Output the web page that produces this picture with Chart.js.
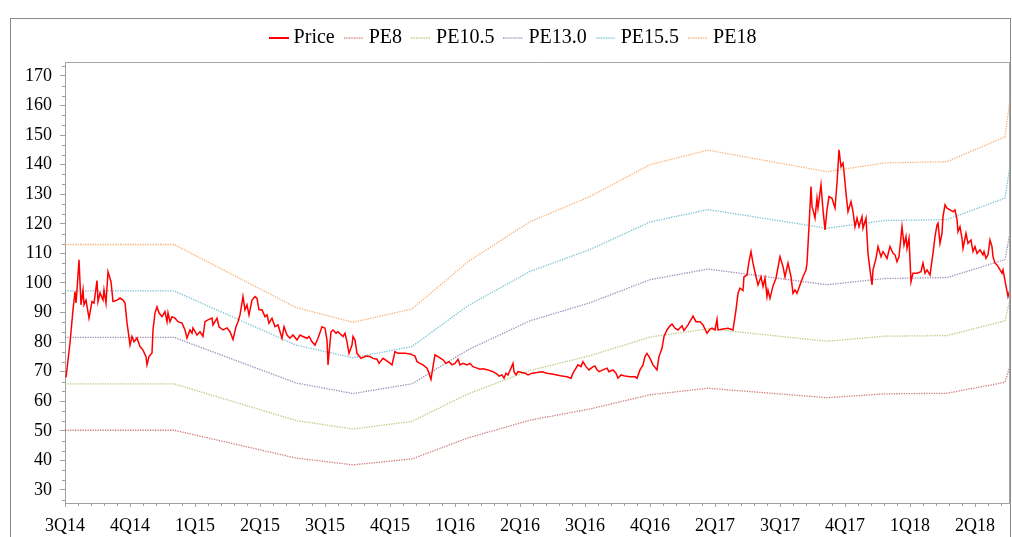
<!DOCTYPE html>
<html>
<head>
<meta charset="utf-8">
<script src="https://cdn.jsdelivr.net/npm/chart.js@4/dist/chart.umd.min.js"></script>
<style>
html,body{margin:0;padding:0;background:#fff;}
canvas{display:block;}
</style>
</head>
<body>
<canvas id="c" width="1012" height="537" style="width:1012px;height:537px"></canvas>
<script>
// ---------- DATA ----------
const xLabels = ['3Q14','4Q14','1Q15','2Q15','3Q15','4Q15','1Q16','2Q16','3Q16','4Q16','2Q17','3Q17','4Q17','1Q18','2Q18'];
const labelStep = 65;     // day units between axis labels
const dayMax = 945;

const priceDays = [1,5,8,10,11,12,14,16,18,19,21,24,27,29,32,33,35,38,39,41,43,46,48,52,55,58,60,62,63,65,67,69,72,75,78,81,82,84,87,88,90,92,94,97,100,102,103,105,107,110,113,117,120,122,125,127,128,132,135,138,140,143,147,148,152,154,158,162,165,168,171,173,175,178,180,182,184,187,190,192,194,197,200,202,204,207,210,213,217,219,222,225,228,232,235,238,242,244,247,250,253,257,260,262,263,266,268,271,273,278,280,282,284,287,288,290,292,296,301,305,308,312,314,318,323,327,330,333,340,345,350,352,355,358,362,364,366,368,370,373,378,381,384,387,390,393,395,398,402,405,408,412,415,418,423,428,432,434,437,439,441,443,446,448,449,451,453,457,460,463,467,472,477,482,487,492,497,502,506,508,511,513,516,518,521,524,528,530,532,534,538,542,544,548,551,553,556,560,565,570,572,575,578,580,582,585,588,592,594,597,599,602,605,607,610,613,617,619,623,628,631,635,638,642,645,647,650,652,653,658,663,668,671,673,675,678,679,682,684,686,688,691,693,696,698,700,702,703,705,708,711,715,718,720,723,726,728,730,732,735,738,741,742,744,746,747,748,750,752,753,756,758,760,762,764,767,770,772,774,776,778,779,781,783,786,788,790,792,794,797,798,801,803,805,807,808,811,813,816,818,820,822,825,828,830,832,834,837,839,841,842,844,846,848,852,856,858,860,862,865,868,870,872,873,875,877,878,880,882,885,888,890,892,893,895,897,898,901,903,906,908,910,912,915,918,919,921,923,925,927,928,930,932,934,937,938,941,943,945];
const priceValues = [68.1,79.7,90.9,97.1,93.2,97.6,107.8,92.6,97.6,92.6,94.2,88.1,93.7,93.2,100.8,93.7,96.6,94.2,97.6,93.2,103.8,100.4,93.7,94.2,94.9,94.2,93.2,86.5,84.1,79.0,81.9,80.1,81.4,78.5,77.3,75.1,72.3,75.1,76.3,84.1,89.9,91.9,89.9,88.6,90.3,86.9,89.9,86.9,88.6,88.1,86.9,86.4,84.1,81.4,84.1,83.0,84.8,82.4,83.5,81.9,86.9,87.5,88.1,85.8,88.1,85.2,84.1,84.8,83.5,80.9,85.2,86.9,89.2,95.4,90.9,92.6,89.2,94.2,95.4,94.8,90.9,90.9,88.6,89.2,86.4,88.1,85.2,85.8,81.3,85.2,82.4,81.3,82.4,80.7,82.4,81.9,81.3,81.9,80.1,79.0,81.3,85.2,84.7,80.7,72.3,83.5,84.1,83.0,83.5,81.9,83.0,80.1,76.2,79.0,81.9,80.7,76.2,74.5,75.3,75.1,74.5,74.2,72.8,74.5,73.4,72.3,76.8,76.2,76.2,76.0,75.3,73.4,72.8,72.3,71.2,69.5,67.4,71.7,75.7,75.1,74.0,72.8,73.4,72.3,72.8,74.2,72.3,72.8,72.3,72.8,71.7,71.2,70.8,71.0,70.6,70.0,69.2,68.5,68.9,67.8,69.5,68.9,71.2,72.8,70.0,68.9,70.0,69.7,69.5,68.9,69.5,69.7,70.0,69.5,69.2,68.9,68.5,68.3,67.8,69.5,71.2,72.3,71.7,73.4,71.7,70.6,71.7,71.9,70.6,70.0,70.6,71.2,70.0,70.6,69.5,67.8,68.9,68.5,68.3,68.3,67.8,70.6,72.3,75.1,76.2,74.5,72.3,70.6,75.1,77.9,81.9,84.1,85.5,86.1,84.7,84.1,85.5,83.9,85.8,88.8,86.9,86.9,85.8,83.0,84.4,84.7,84.1,87.7,84.1,84.4,84.7,84.1,90.9,96.5,98.2,97.4,102.1,102.7,107.2,110.6,106.7,102.1,99.3,102.1,98.8,101.6,95.4,97.6,94.8,99.0,101.6,108.9,105.5,102.1,106.7,102.1,96.5,97.6,96.5,99.3,102.1,104.4,106.7,119.0,132.6,125.8,124.7,121.9,128.6,125.3,133.2,124.7,117.9,124.7,129.2,128.6,125.3,133.7,145.0,139.3,140.5,137.6,130.3,124.1,127.5,124.1,119.0,121.9,119.0,122.4,118.5,121.9,110.0,104.4,99.3,104.4,108.3,112.3,108.9,110.6,109.5,108.3,112.3,110.0,109.5,107.2,108.9,119.0,112.8,115.7,111.7,115.1,100.4,103.3,103.3,103.8,106.7,103.3,104.4,102.7,110.0,115.7,119.6,120.2,113.4,116.8,122.4,126.4,125.3,124.7,124.1,124.7,121.4,117.3,119.0,115.1,111.7,116.8,113.4,114.5,110.6,112.3,110.0,111.2,109.5,110.6,108.3,109.5,114.5,112.3,108.9,106.7,106.1,105.0,103.3,104.4,99.0,95.4,97.8];

const peDays = [0,109,231,288,347,403,465,525,585,643,762,820,882,940,945];
const pe8   = [50.2,50.2,40.8,38.5,40.5,47.6,53.6,57.4,62.2,64.4,61.2,62.5,62.7,66.4,72.0];
const pe105 = [65.9,65.9,53.5,50.6,53.2,62.5,70.4,75.4,81.7,84.5,80.3,82.0,82.2,87.2,94.5];
const pe13  = [81.6,81.6,66.2,62.6,65.9,77.4,87.2,93.3,101.1,104.7,99.4,101.5,101.8,107.9,117.0];
const pe155 = [97.3,97.3,79.0,74.7,78.5,92.3,103.9,111.3,120.6,124.8,118.5,121.1,121.4,128.7,139.5];
const pe18  = [113.0,113.0,91.7,86.7,91.2,107.2,120.7,129.2,140.0,144.9,137.6,140.6,141.0,149.4,162.0];

const yMin = 25.6, yMax = 174.7, yStep = 10;

// ---------- BUILD ----------
const pts = (xs, ys) => xs.map((x, i) => ({x, y: ys[i]}));
const FONT = "'Liberation Serif', 'Times New Roman', serif";

// small legend swatch (line sample) used as the legend point style
function swatch(color, width, dash) {
  const cv = document.createElement('canvas');
  cv.width = 20; cv.height = 4;
  const g = cv.getContext('2d');
  g.strokeStyle = color; g.lineWidth = width;
  if (dash) g.setLineDash(dash);
  g.beginPath(); g.moveTo(0, 2); g.lineTo(20, 2); g.stroke();
  return cv;
}

function peSet(label, data, color) {
  return {
    label, data: pts(peDays, data), borderColor: color, backgroundColor: color,
    borderWidth: 1.3, borderDash: [1.3, 1.2], pointRadius: 0, tension: 0, fill: false,
    pointStyle: swatch(color, 1.5, [1.3, 1.2])
  };
}

const decor = {
  id: 'decor',
  beforeDraw(chart) {
    const c = chart.ctx;
    c.save();
    c.fillStyle = '#fff';
    c.fillRect(0, 0, chart.width, chart.height);
    c.strokeStyle = '#8a8a8a';
    c.lineWidth = 1;
    c.strokeRect(10.5, 18.5, 1000, 700);
    c.restore();
  },
  afterDraw(chart) {
    const c = chart.ctx;
    const a = chart.chartArea;
    const xs = chart.scales.x, ys = chart.scales.y;
    c.save();
    c.strokeStyle = '#a6a6a6';
    c.lineWidth = 1;
    c.beginPath();
    c.moveTo(a.left, a.top + 0.5); c.lineTo(a.right - 0.5, a.top + 0.5);
    c.lineTo(a.right - 0.5, a.bottom);
    c.stroke();
    // minor ticks
    c.strokeStyle = '#a0a0a0';
    c.beginPath();
    for (let k = 0; k * 10 / 3 <= yMax; k++) {
      if (k % 3 === 0) continue;
      const v = k * 10 / 3;
      if (v < yMin) continue;
      const py = Math.round(ys.getPixelForValue(v)) + 0.5;
      c.moveTo(a.left - 3, py); c.lineTo(a.left, py);
    }
    for (let k = 0; k * 13 <= dayMax; k++) {
      if (k % 5 === 0) continue;
      const px = Math.round(xs.getPixelForValue(k * 13)) + 0.5;
      c.moveTo(px, a.bottom); c.lineTo(px, a.bottom + 3);
    }
    c.stroke();
    c.restore();
  }
};

new Chart(document.getElementById('c'), {
  type: 'line',
  data: {
    datasets: [
      { label: 'Price', data: pts(priceDays, priceValues), borderColor: '#ff0000', backgroundColor: '#ff0000',
        borderWidth: 1.5, pointRadius: 0, tension: 0, fill: false,
        pointStyle: swatch('#ff0000', 2) },
      peSet('PE8', pe8, 'rgba(192,80,77,0.75)'),
      peSet('PE10.5', pe105, 'rgba(155,187,89,0.75)'),
      peSet('PE13.0', pe13, 'rgba(128,100,162,0.75)'),
      peSet('PE15.5', pe155, 'rgba(75,172,198,0.75)'),
      peSet('PE18', pe18, 'rgba(247,150,70,0.75)')
    ]
  },
  options: {
    responsive: false,
    animation: false,
    devicePixelRatio: 1,
    layout: { padding: { top: 14, right: 2, bottom: 0, left: 20 } },
    plugins: {
      legend: {
        position: 'top',
        labels: {
          usePointStyle: true, pointStyleWidth: 10,
          padding: 14, color: '#000',
          font: { family: FONT, size: 20 }
        }
      },
      title: { display: true, text: '', weight: 500, padding: { top: 0, bottom: 3 }, font: { size: 1, lineHeight: 1 } },
      tooltip: { enabled: false }
    },
    scales: {
      x: {
        type: 'linear', min: 0, max: dayMax,
        afterFit(s) { s.height = 34; },
        grid: { display: true, drawOnChartArea: false, drawTicks: true, tickLength: 4, tickColor: '#a0a0a0' },
        border: { display: true, color: '#a0a0a0', width: 1 },
        ticks: {
          stepSize: labelStep, includeBounds: false, autoSkip: false, maxRotation: 0, padding: 8,
          color: '#000', font: { family: FONT, size: 18 },
          callback: (v) => xLabels[Math.round(v / labelStep)] || ''
        }
      },
      y: {
        type: 'linear', min: yMin, max: yMax,
        afterFit(s) { s.width = 45; },
        grid: { display: true, drawOnChartArea: false, drawTicks: true, tickLength: 5, tickColor: '#a0a0a0' },
        border: { display: true, color: '#a0a0a0', width: 1 },
        ticks: {
          stepSize: yStep, includeBounds: false, padding: 8,
          color: '#000', font: { family: FONT, size: 18 },
          callback: (v) => String(Math.round(v))
        }
      }
    }
  },
  plugins: [decor]
});
</script>
</body>
</html>
